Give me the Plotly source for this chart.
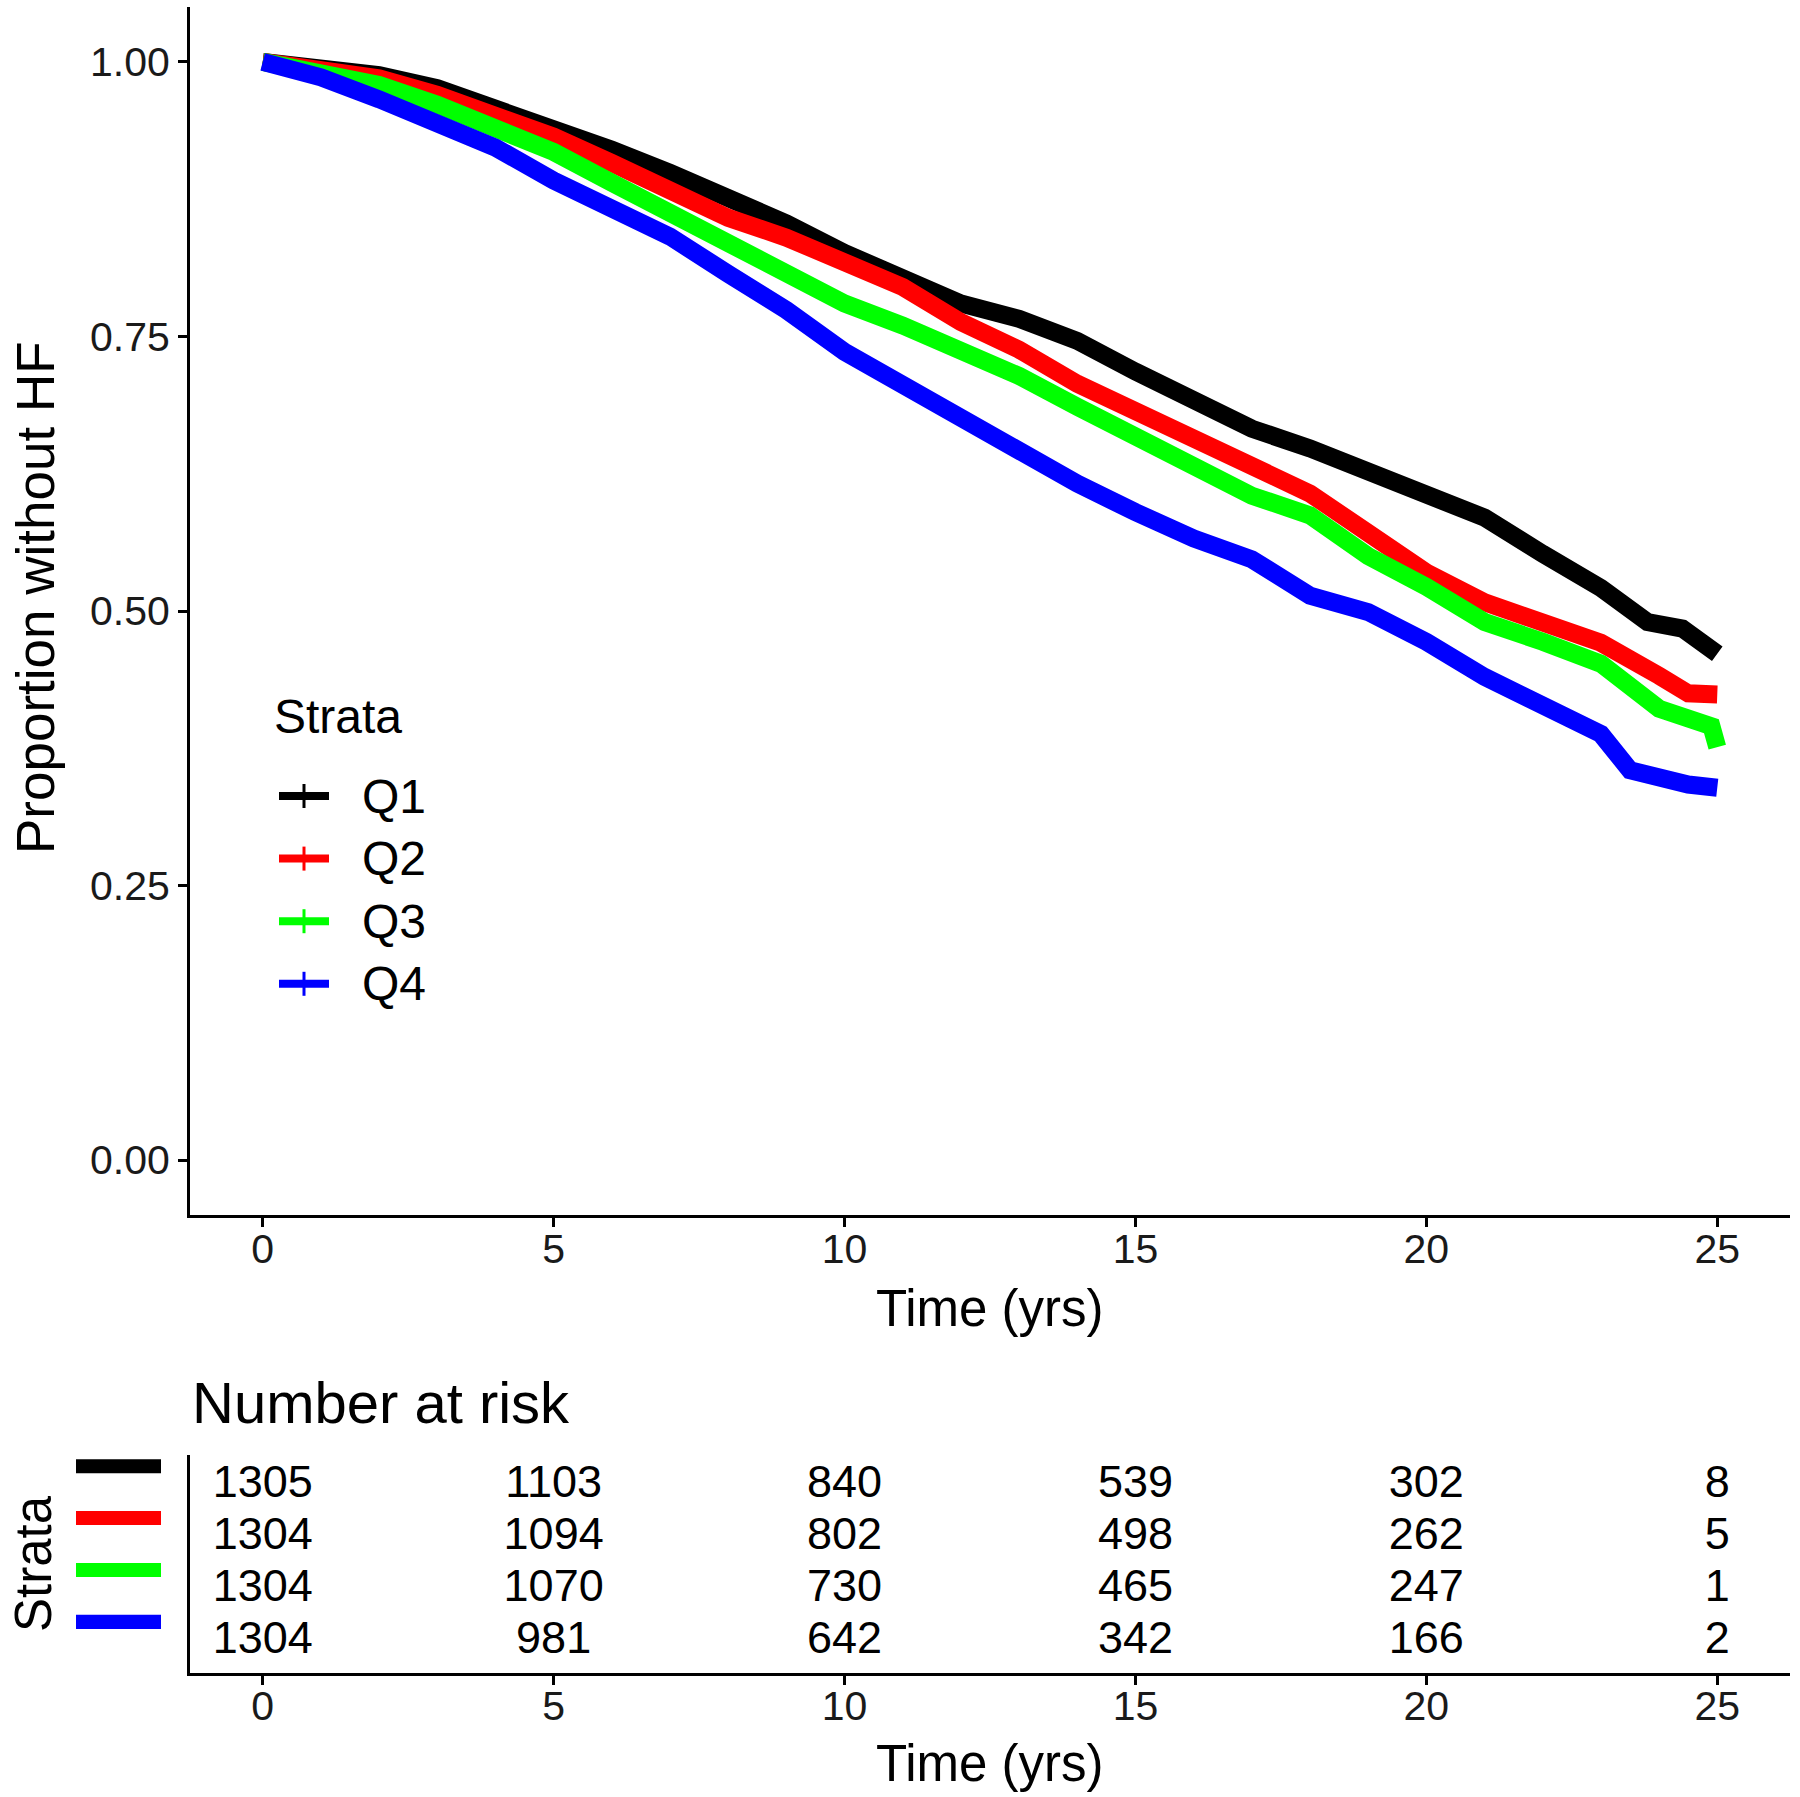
import plotly.graph_objects as go

W, H = 1800, 1797
FONT = "Liberation Sans, Arial, sans-serif"

strata = ["Q1", "Q2", "Q3", "Q4"]
colors = ["#000000", "#FF0000", "#00FF00", "#0000FF"]

q1_time = [0, 1, 2, 3, 4, 5, 6, 7, 8, 9, 10, 11, 12, 13, 14, 15, 16, 17, 18, 19, 20, 21, 22, 23, 23.8, 24.4, 25]
q1_surv = [1.000, 0.995, 0.988, 0.976, 0.958, 0.939, 0.920, 0.899, 0.877, 0.853, 0.826, 0.803, 0.780, 0.766,
           0.746, 0.718, 0.694, 0.666, 0.648, 0.627, 0.610, 0.585, 0.552, 0.521, 0.490, 0.484, 0.461]

q2_time = [0, 1, 2, 3, 4, 5, 6, 7, 8, 9, 10, 11, 12, 13, 14, 15, 16, 17, 18, 19, 20, 21, 22, 23, 24, 24.5, 25]
q2_surv = [1.000, 0.994, 0.985, 0.970, 0.951, 0.932, 0.908, 0.884, 0.858, 0.840, 0.818, 0.795, 0.763, 0.738,
           0.707, 0.682, 0.656, 0.628, 0.607, 0.571, 0.535, 0.508, 0.490, 0.471, 0.441, 0.425, 0.424]

q3_time = [0, 1, 2, 3, 4, 5, 6, 7, 8, 9, 10, 11, 12, 13, 14, 15, 16, 17, 18, 19, 20, 21, 22, 23, 24, 24.5, 24.9, 25]
q3_surv = [1.000, 0.991, 0.979, 0.961, 0.940, 0.918, 0.890, 0.862, 0.834, 0.808, 0.780, 0.760, 0.738, 0.714,
           0.686, 0.659, 0.632, 0.605, 0.587, 0.550, 0.522, 0.490, 0.472, 0.452, 0.411, 0.401, 0.395, 0.376]

q4_time = [0, 1, 2, 3, 4, 5, 6, 7, 8, 9, 10, 11, 12, 13, 14, 15, 16, 17, 18, 19, 20, 21, 22, 23, 23.5, 24, 24.5, 25]
q4_surv = [1.000, 0.986, 0.966, 0.945, 0.922, 0.892, 0.866, 0.841, 0.807, 0.774, 0.736, 0.705, 0.675, 0.644,
           0.616, 0.590, 0.566, 0.547, 0.514, 0.499, 0.472, 0.440, 0.413, 0.388, 0.355, 0.348, 0.342, 0.339]

risk_times = [0, 5, 10, 15, 20, 25]
risk_q1 = [1305, 1103, 840, 539, 302, 8]
risk_q2 = [1304, 1094, 802, 498, 262, 5]
risk_q3 = [1304, 1070, 730, 465, 247, 1]
risk_q4 = [1304, 981, 642, 342, 166, 2]

x_ticks = [0, 5, 10, 15, 20, 25]
y_ticks = [0, 0.25, 0.5, 0.75, 1.0]
y_ticktext = ["0.00", "0.25", "0.50", "0.75", "1.00"]

times = [q1_time, q2_time, q3_time, q4_time]
survs = [q1_surv, q2_surv, q3_surv, q4_surv]
risks = [risk_q1, risk_q2, risk_q3, risk_q4]


def px(x):
    return x / W


def py(y):
    return 1 - y / H


fig = go.Figure()

for name, col, t, s in zip(strata, colors, times, survs):
    fig.add_trace(go.Scatter(x=t, y=s, mode="lines", name=name, showlegend=False,
                             line=dict(color=col, width=18), xaxis="x", yaxis="y"))

# risk table
n = len(strata)
for i, (r, name) in enumerate(zip(risks, strata)):
    row = n - i
    fig.add_trace(go.Scatter(x=risk_times, y=[row] * len(risk_times), mode="text",
                             text=[str(v) for v in r], textposition="middle center",
                             textfont=dict(family=FONT, size=45, color="black"),
                             showlegend=False, xaxis="x2", yaxis="y2", hoverinfo="skip"))

xdom = [px(190), px(1790)]
axis_common = dict(showline=True, linecolor="black", linewidth=3, ticks="outside", ticklen=9,
                   tickwidth=2.5, tickcolor="black", showgrid=False, zeroline=False,
                   tickfont=dict(family=FONT, size=41, color="#1a1a1a"), automargin=False)

fig.update_layout(
    width=W, height=H, margin=dict(l=0, r=0, t=0, b=0),
    paper_bgcolor="white", plot_bgcolor="white", showlegend=False,
    font=dict(family=FONT, color="black"),
    xaxis=dict(domain=xdom, range=[-1.25, 26.25], tickvals=x_ticks, anchor="y",
               ticklabelstandoff=-13, **axis_common),
    yaxis=dict(domain=[py(1215), py(7)], range=[-0.05, 1.05], tickvals=y_ticks, ticktext=y_ticktext,
               anchor="x", **axis_common),
    xaxis2=dict(domain=xdom, range=[-1.25, 26.25], tickvals=x_ticks, anchor="y2",
                ticklabelstandoff=-14, **axis_common),
    yaxis2=dict(domain=[py(1673), py(1455)], range=[0.4, 4.6], anchor="x2",
                showline=True, linecolor="black", linewidth=3, ticks="", showticklabels=False,
                showgrid=False, zeroline=False, automargin=False),
)

ann = []
ann.append(dict(text="Proportion without HF", x=px(35), y=py(598), xref="paper", yref="paper",
                textangle=-90, showarrow=False, font=dict(size=53, family=FONT, color="black"),
                xanchor="center", yanchor="middle"))
ann.append(dict(text="Time (yrs)", x=px(990), y=py(1308), xref="paper", yref="paper",
                showarrow=False, font=dict(size=51, family=FONT, color="black"),
                xanchor="center", yanchor="middle"))
ann.append(dict(text="Number at risk", x=px(190), y=py(1402), xref="paper", yref="paper",
                showarrow=False, font=dict(size=58, family=FONT, color="black"),
                xanchor="left", yanchor="middle"))
ann.append(dict(text="Strata", x=px(33), y=py(1564), xref="paper", yref="paper", textangle=-90,
                showarrow=False, font=dict(size=51, family=FONT, color="black"),
                xanchor="center", yanchor="middle"))
ann.append(dict(text="Time (yrs)", x=px(990), y=py(1763), xref="paper", yref="paper",
                showarrow=False, font=dict(size=51, family=FONT, color="black"),
                xanchor="center", yanchor="middle"))
# legend
ann.append(dict(text="Strata", x=px(272), y=py(716), xref="paper", yref="paper",
                showarrow=False, font=dict(size=48, family=FONT, color="black"),
                xanchor="left", yanchor="middle"))
shapes = []
for i, (name, col) in enumerate(zip(strata, colors)):
    yc = 796 + 62.6 * i
    shapes.append(dict(type="line", xref="paper", yref="paper", x0=px(279), x1=px(329),
                       y0=py(yc), y1=py(yc), line=dict(color=col, width=8)))
    shapes.append(dict(type="line", xref="paper", yref="paper", x0=px(304), x1=px(304),
                       y0=py(yc - 12), y1=py(yc + 12), line=dict(color=col, width=3)))
    ann.append(dict(text=name, x=px(360), y=py(yc), xref="paper", yref="paper",
                    showarrow=False, font=dict(size=48, family=FONT, color="black"),
                    xanchor="left", yanchor="middle"))
    # risk table colour keys
    row = n - i
    shapes.append(dict(type="rect", xref="paper", yref="y2", x0=px(76), x1=px(161),
                       y0=row + 0.25, y1=row + 0.52, fillcolor=col, line=dict(width=0)))

fig.update_layout(annotations=ann, shapes=shapes)
fig.write_html("out.html", config={"displayModeBar": False},
               post_script="document.body.style.margin='0px';document.body.style.padding='0px';"
                           "document.documentElement.style.overflow='hidden';")
